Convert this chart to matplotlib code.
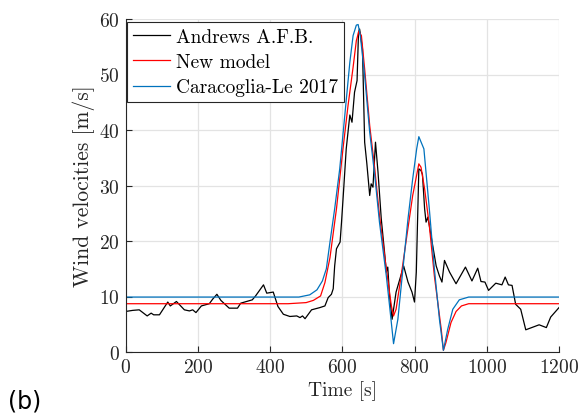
import matplotlib
matplotlib.use("Agg")
import matplotlib.pyplot as plt

# Andrews A.F.B. record
t_obs = [0, 20, 38, 50, 60, 71, 78, 94, 117, 124, 141, 163, 177, 186, 195, 210, 232, 241, 253, 264,
         287, 310, 319, 351, 360, 382, 391, 409, 422, 437, 455, 474, 483, 490, 497, 515, 538, 552,
         561, 570, 575, 579, 584, 594, 598, 604, 611, 621, 627, 634, 641, 645, 648, 656, 662, 668,
         676, 680, 685, 692, 699, 708, 717, 722, 726, 731, 738, 749, 770, 782, 793, 800, 805, 812,
         818, 822, 828, 832, 837, 860, 869, 876, 883, 897, 915, 941, 959, 975, 984, 995, 1005, 1025,
         1042, 1051, 1060, 1070, 1080, 1094, 1108, 1145, 1165, 1177, 1200]
v_obs = [7.3, 7.5, 7.6, 7.0, 6.5, 7.0, 6.7, 6.7, 9.0, 8.3, 9.1, 7.6, 7.4, 7.6, 7.1, 8.3, 8.7, 9.5, 10.4, 9.3,
         7.9, 7.9, 8.8, 9.4, 10.1, 12.1, 10.6, 10.8, 8.2, 6.8, 6.4, 6.5, 6.2, 6.5, 6.0, 7.6, 8.0, 8.3,
         9.8, 10.4, 11.4, 15.5, 18.6, 19.8, 23.4, 29.4, 36.6, 42.7, 41.4, 46.8, 48.9, 57.6, 58.2, 54.6, 37.8, 34.0,
         28.2, 30.3, 29.7, 37.8, 32.4, 24.0, 18.0, 14.4, 15.3, 10.1, 5.9, 10.8, 15.5, 12.6, 10.8, 9.0, 14.4, 33.0,
         32.7, 32.0, 25.8, 23.4, 24.3, 15.5, 13.7, 12.6, 16.5, 14.4, 12.3, 15.3, 12.8, 15.1, 12.7, 12.6, 11.1, 12.4,
         12.1, 13.5, 12.1, 12.0, 8.6, 7.7, 4.0, 4.9, 4.4, 6.3, 8.0]

# New model
t_new = [0, 450, 500, 520, 540, 552, 566, 584, 602, 616, 630, 639, 646, 653, 662, 676, 690, 703, 722, 736,
         742, 749, 763, 779, 795, 812, 818, 828, 841, 855, 874, 880, 887, 901, 915, 930, 950, 1200]
v_new = [8.7, 8.7, 8.9, 9.3, 10.1, 12.5, 17.0, 25.8, 36.6, 44.4, 51.3, 56.1, 57.8, 57.0, 51.0, 40.8, 33.0, 24.6, 15.0, 8.3,
         6.5, 7.7, 13.7, 21.0, 28.2, 33.9, 33.3, 29.4, 22.8, 13.7, 4.1, 0.3, 1.7, 5.3, 7.3, 8.3, 8.7, 8.7]

# Caracoglia-Le 2017
t_cl = [0, 480, 510, 530, 545, 556, 566, 579, 593, 607, 621, 630, 639, 644, 650, 662, 676, 690, 703, 722,
        731, 742, 754, 768, 782, 795, 806, 812, 826, 841, 855, 869, 880, 892, 906, 924, 950, 1200]
v_cl = [9.9, 9.9, 10.3, 11.2, 12.8, 15.0, 19.8, 25.8, 33.0, 42.6, 52.2, 57.0, 58.9, 59.0, 57.0, 49.8, 39.6, 31.8, 23.4, 13.7,
        8.3, 1.5, 5.9, 15.0, 24.0, 31.2, 36.6, 38.8, 36.6, 25.8, 15.0, 5.9, 0.3, 4.1, 7.7, 9.4, 9.9, 9.9]

labels = ["Andrews A.F.B.", "New model", "Caracoglia-Le 2017"]
x_ticks = [0, 200, 400, 600, 800, 1000, 1200]
y_ticks = [0, 10, 20, 30, 40, 50, 60]

plt.rcParams['font.family'] = ['cmr10', 'DejaVu Serif']
plt.rcParams['axes.formatter.use_mathtext'] = True
plt.rcParams['mathtext.fontset'] = 'cm'

fig = plt.figure(figsize=(5.81, 4.14), dpi=100)
ax = fig.add_axes([125.5/581, 61/414, (559-125.5)/581, (353-20)/414])

ax.plot(t_obs, v_obs, color='black', lw=0.9, label=labels[0])
ax.plot(t_new, v_new, color='#ff0000', lw=0.9, label=labels[1])
ax.plot(t_cl, v_cl, color='#0072bd', lw=0.9, label=labels[2])

ax.set_xlim(0, 1200)
ax.set_ylim(0, 60)
ax.set_xticks(x_ticks)
ax.set_yticks(y_ticks)
ax.grid(True, color='#e3e3e3', lw=0.9)
ax.set_axisbelow(True)
for s in ['top', 'right']:
    ax.spines[s].set_visible(False)
ax.spines['left'].set_color('#262626')
ax.spines['bottom'].set_color('#262626')
ax.tick_params(direction='in', length=4, width=0.8, labelsize=14, colors='#262626', pad=4)
ax.set_xlabel("Time [s]", fontsize=14, labelpad=3, color='#262626')
ax.set_ylabel("Wind velocities [m/s]", fontsize=15.5, labelpad=3, color='#262626')

leg = ax.legend(loc='upper left', bbox_to_anchor=(0.004, 0.991), fontsize=14, fancybox=False,
                edgecolor='#262626', framealpha=1, borderpad=0.3, labelspacing=0.38,
                handlelength=1.9, handletextpad=0.3, borderaxespad=0)
leg.get_frame().set_linewidth(0.8)

fig.text(8/581, 1 - 402/414, "(b)", fontsize=17, family='DejaVu Sans', va='center', ha='left')

fig.savefig("out.png", dpi=100)
